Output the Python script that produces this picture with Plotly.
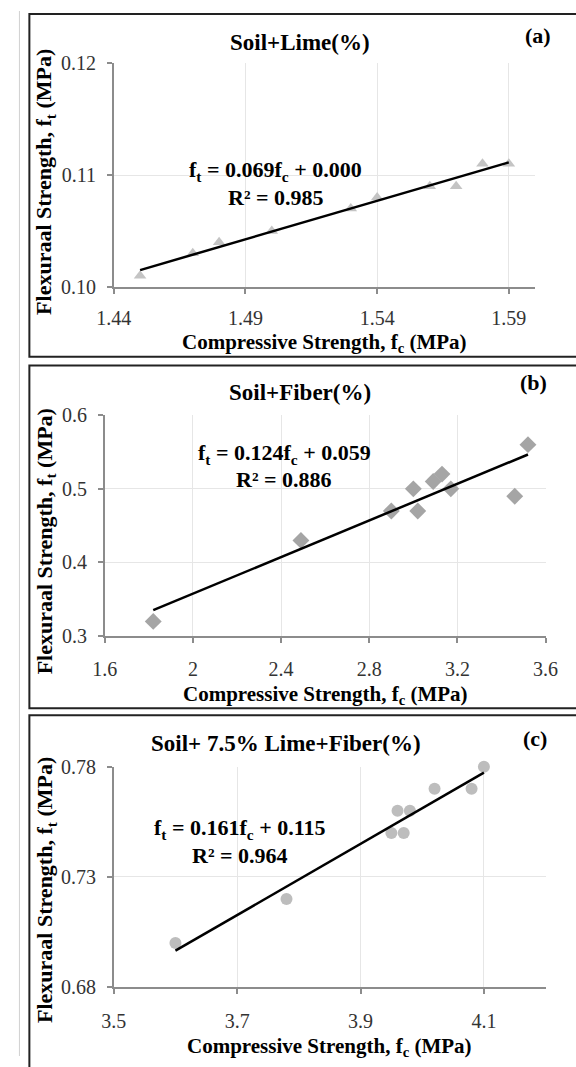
import numpy as np
import plotly.graph_objects as go

# ---------------- data ----------------
lime_fc = [1.45, 1.47, 1.48, 1.50, 1.53, 1.54, 1.56, 1.57, 1.58, 1.59]
lime_ft = [0.101, 0.103, 0.104, 0.105, 0.107, 0.108, 0.109, 0.109, 0.111, 0.111]

fiber_fc = [1.82, 2.49, 2.90, 3.00, 3.02, 3.09, 3.13, 3.17, 3.46, 3.52]
fiber_ft = [0.32, 0.43, 0.47, 0.50, 0.47, 0.51, 0.52, 0.50, 0.49, 0.56]

limefiber_fc = [3.60, 3.78, 3.95, 3.96, 3.97, 3.98, 4.02, 4.08, 4.10]
limefiber_ft = [0.70, 0.72, 0.75, 0.76, 0.75, 0.76, 0.77, 0.77, 0.78]

titles = ["Soil+Lime(%)", "Soil+Fiber(%)", "Soil+ 7.5% Lime+Fiber(%)"]
tags = ["(a)", "(b)", "(c)"]
equations = [("0.069", "0.000", "0.985"), ("0.124", "0.059", "0.886"), ("0.161", "0.115", "0.964")]

x_ticks = [[1.44, 1.49, 1.54, 1.59], [1.6, 2.0, 2.4, 2.8, 3.2, 3.6], [3.5, 3.7, 3.9, 4.1]]
y_ticks = [[0.10, 0.11, 0.12], [0.3, 0.4, 0.5, 0.6], [0.68, 0.73, 0.78]]
x_tickformat = [".2f", "", ".1f"]
y_tickformat = [".2f", ".1f", ".2f"]
x_ranges = [[1.44, 1.60], [1.6, 3.6], [3.5, 4.2]]
y_ranges = [[0.10, 0.12], [0.3, 0.6], [0.68, 0.78]]

# ---------------- layout helpers ----------------
W, H = 576, 1067
def px(x):
    return x / W
def py(y):
    return (H - y) / H

SERIF = "Liberation Serif"

panels = [
    dict(fc=lime_fc, ft=lime_ft, symbol="triangle-up", color="#C4C4C4", size=11,
         xdom=[101, 545.6], ydom=[281.7, 53.3], xstand=7,
         title_xy=(297, 32), tag_xy=(549, 25), eq_xy=(272, 163, 190),
         xt_y=339, yt_xy=(29, 174)),
    dict(fc=fiber_fc, ft=fiber_ft, symbol="diamond", color="#A5A5A5", size=13,
         xdom=[91.5, 556.6], ydom=[638.3, 412.7], xstand=9,
         title_xy=(297, 390), tag_xy=(544, 379), eq_xy=(281, 452, 478),
         xt_y=698, yt_xy=(29, 541)),
    dict(fc=limefiber_fc, ft=limefiber_ft, symbol="circle", color="#BDBDBD", size=12,
         xdom=[101, 556.6], ydom=[996.7, 771.7], xstand=10,
         title_xy=(283, 748), tag_xy=(545, 743), eq_xy=(234, 835, 862),
         xt_y=1058, yt_xy=(29, 897)),
]

fig = go.Figure()
annotations = []
layout_axes = {}

def ann(text, x, y, size, angle=0):
    annotations.append(dict(text=text, x=px(x), y=py(y), textangle=angle,
                            xref="paper", yref="paper", showarrow=False,
                            xanchor="center", yanchor="middle",
                            font=dict(family=SERIF, size=size, color="black")))

for i, p in enumerate(panels):
    n = "" if i == 0 else str(i + 1)
    xa, ya = "x" + n, "y" + n
    # markers
    fig.add_trace(go.Scatter(
        x=p["fc"], y=p["ft"], mode="markers", xaxis=xa, yaxis=ya, cliponaxis=False,
        marker=dict(symbol=p["symbol"], color=p["color"], size=p["size"], line=dict(width=0)),
        showlegend=False, hoverinfo="skip"))
    # linear trendline from a least-squares fit of the data
    slope, icpt = np.polyfit(p["fc"], p["ft"], 1)
    xs = [min(p["fc"]), max(p["fc"])]
    fig.add_trace(go.Scatter(
        x=xs, y=[slope * v + icpt for v in xs], mode="lines", xaxis=xa, yaxis=ya, cliponaxis=False,
        line=dict(color="black", width=2.5), showlegend=False, hoverinfo="skip"))

    common = dict(showline=True, linecolor="#8C8C8C", linewidth=1.5,
                  showgrid=True, gridcolor="#E6E6E6", gridwidth=1,
                  zeroline=False, ticks="outside", tickcolor="#8C8C8C", ticklen=5, tickwidth=1.5,
                  tickfont=dict(family=SERIF, size=20, color="#333333"))
    layout_axes["xaxis" + n] = dict(common, domain=[px(p["xdom"][0]), px(p["xdom"][1])],
                                    range=x_ranges[i], tickmode="array",
                                    tickvals=x_ticks[i], tickformat=x_tickformat[i],
                                    ticklabelstandoff=p["xstand"], anchor=ya)
    layout_axes["yaxis" + n] = dict(common, domain=[py(p["ydom"][0]), py(p["ydom"][1])],
                                    range=y_ranges[i], tickmode="array",
                                    tickvals=y_ticks[i], tickformat=y_tickformat[i],
                                    ticklabelstandoff=7, anchor=xa)

    # texts
    ann("<b>%s</b>" % titles[i], p["title_xy"][0], p["title_xy"][1], 23)
    ann("<b>%s</b>" % tags[i], p["tag_xy"][0], p["tag_xy"][1], 22)
    m, b, r2 = equations[i]
    ann("<b>f<sub>t</sub> = %sf<sub>c</sub> + %s</b>" % (m, b), p["eq_xy"][0], p["eq_xy"][1], 22)
    ann("<b>R² = %s</b>" % r2, p["eq_xy"][0], p["eq_xy"][2], 22)
    ann("<b>Compressive Strength, f<sub>c</sub> (MPa)</b>",
        (p["xdom"][0] + p["xdom"][1]) / 2, p["xt_y"], 21)
    ann("<b>Flexuraal Strength, f<sub>t</sub> (MPa)</b>", p["yt_xy"][0], p["yt_xy"][1], 22, -90)

# panel borders
shapes = [
    dict(type="line", xref="paper", yref="paper", x0=px(1.5), x1=px(1.5), y0=0, y1=1,
         line=dict(color="#D0D0D0", width=1)),
    dict(type="rect", xref="paper", yref="paper", x0=px(12), x1=px(590), y0=py(353), y1=py(3),
         line=dict(color="#222222", width=2)),
    dict(type="rect", xref="paper", yref="paper", x0=px(12), x1=px(590), y0=py(712), y1=py(362),
         line=dict(color="#222222", width=2)),
    dict(type="rect", xref="paper", yref="paper", x0=px(12), x1=px(590), y0=py(1080), y1=py(719),
         line=dict(color="#222222", width=2)),
]

fig.update_layout(
    width=W, height=H, margin=dict(l=0, r=0, t=0, b=0),
    paper_bgcolor="white", plot_bgcolor="white",
    annotations=annotations, shapes=shapes, showlegend=False,
    **layout_axes)

fig.write_html("out.html")
